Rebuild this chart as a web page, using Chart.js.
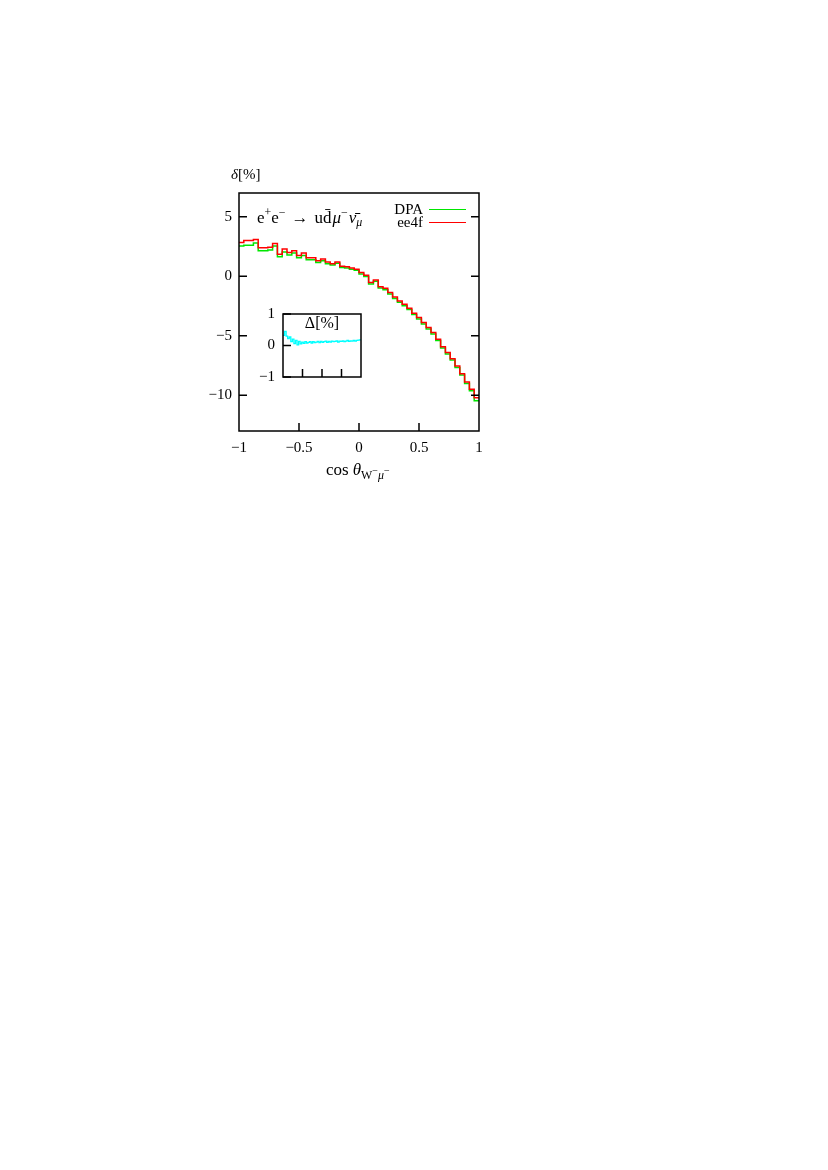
<!DOCTYPE html>
<html><head><meta charset="utf-8">
<script src="https://cdn.jsdelivr.net/npm/chart.js@4/dist/chart.umd.min.js"></script>
<style>
html,body{margin:0;padding:0;background:#fff;}
#wrap{position:relative;width:828px;height:1170px;}
canvas{position:absolute;left:0;top:0;}
</style></head><body>
<div id="wrap"><canvas id="main" width="828" height="1170"></canvas><canvas id="inset" width="828" height="1170"></canvas></div>
<script>
// ---- data ----
const binEdges = [-1,-0.96,-0.92,-0.88,-0.84,-0.8,-0.76,-0.72,-0.68,-0.64,-0.6,-0.56,-0.52,-0.48,-0.44,-0.4,-0.36,-0.32,-0.28,-0.24,-0.2,-0.16,-0.12,-0.08,-0.04,0,0.04,0.08,0.12,0.16,0.2,0.24,0.28,0.32,0.36,0.4,0.44,0.48,0.52,0.56,0.6,0.64,0.68,0.72,0.76,0.8,0.84,0.88,0.92,0.96,1];
const ee4f = [2.85,3.0,3.0,3.1,2.4,2.4,2.45,2.75,1.85,2.3,2.0,2.15,1.75,1.95,1.55,1.55,1.3,1.45,1.2,1.05,1.2,0.85,0.8,0.7,0.6,0.31,0.08,-0.53,-0.31,-0.87,-1.0,-1.37,-1.74,-2.07,-2.35,-2.69,-3.11,-3.47,-3.89,-4.31,-4.73,-5.29,-5.91,-6.41,-6.92,-7.54,-8.18,-8.88,-9.5,-10.2];
const dpa = [2.55,2.6,2.6,2.8,2.15,2.15,2.2,2.55,1.65,2.05,1.8,1.95,1.55,1.75,1.4,1.4,1.15,1.3,1.05,0.95,1.1,0.75,0.7,0.6,0.5,0.2,-0.02,-0.65,-0.42,-0.98,-1.12,-1.48,-1.86,-2.18,-2.47,-2.8,-3.22,-3.58,-4.0,-4.43,-4.85,-5.4,-6.03,-6.53,-7.04,-7.66,-8.3,-9.0,-9.62,-10.45];
const delta = [0.32,0.45,0.3,0.22,0.27,0.12,0.2,0.06,0.16,0.02,0.13,0.05,0.11,0.07,0.12,0.08,0.1,0.12,0.08,0.12,0.09,0.11,0.13,0.09,0.13,0.1,0.12,0.14,0.1,0.13,0.11,0.14,0.12,0.13,0.15,0.11,0.14,0.13,0.15,0.12,0.14,0.16,0.13,0.15,0.14,0.16,0.14,0.16,0.17,0.18];
const xTicks = [-1,-0.5,0,0.5,1];
const yTicks = [-10,-5,0,5];
const insetXTicks = [-1,-0.5,0,0.5,1];
const insetYTicks = [-1,0,1];
const seriesNames = ['DPA','ee4f'];

// ---- helpers ----
const SERIF = '"Liberation Serif", "DejaVu Serif", serif';
function histPoints(vals){
  const p = vals.map((v,i)=>({x:binEdges[i], y:v}));
  p.push({x:binEdges[binEdges.length-1], y:vals[vals.length-1]});
  return p;
}
function fmt(v){ return (v<0?'\u2212':'') + String(Math.abs(v)); }
function drawRuns(ctx, x, y, runs, size){
  ctx.save();
  ctx.fillStyle='#000';
  ctx.textBaseline='alphabetic';
  ctx.textAlign='left';
  let cx = x;
  for(const r of runs){
    const s = r.s ? size*r.s : size;
    ctx.font = (r.i?'italic ':'') + s + 'px ' + SERIF;
    ctx.fillText(r.t, cx, y + (r.dy||0));
    cx += ctx.measureText(r.t).width + (r.gap||0);
  }
  ctx.restore();
  return cx;
}

const framePlugin = {
  id:'frame',
  afterDraw(chart, args, opts){
    const {ctx, chartArea:a} = chart;
    const xs = chart.scales.x, ys = chart.scales.y;
    ctx.save();
    ctx.strokeStyle='#000';
    ctx.lineWidth=1.5;
    ctx.strokeRect(a.left, a.top, a.right-a.left, a.bottom-a.top);
    const L = 8;
    ctx.beginPath();
    for(const v of opts.xt){
      const px = xs.getPixelForValue(v);
      ctx.moveTo(px, a.bottom); ctx.lineTo(px, a.bottom-L);
    }
    for(const v of opts.yt){
      const py = ys.getPixelForValue(v);
      ctx.moveTo(a.left, py); ctx.lineTo(a.left+L, py);
      if(opts.mirror){ ctx.moveTo(a.right, py); ctx.lineTo(a.right-L, py); }
    }
    ctx.stroke();
    ctx.restore();
    if(opts.text) opts.text(ctx, chart);
  }
};

function mainText(ctx, chart){
  // y label
  drawRuns(ctx, 231, 179, [{t:'\u03B4', i:true},{t:'[%]'}], 15);
  // process annotation
  drawRuns(ctx, 257, 223, [
    {t:'e'},{t:'+', s:0.7, dy:-7},{t:'e'},{t:'\u2212', s:0.7, dy:-7, gap:6},
    {t:'\u2192', gap:6},{t:'u'},{t:'d\u0304', gap:1},{t:'\u03BC', i:true},{t:'\u2212', s:0.7, dy:-7, gap:1},
    {t:'\u03BD\u0304', i:true},{t:'\u03BC', i:true, s:0.7, dy:3}
  ], 17);
  // legend
  ctx.save();
  ctx.font = '15px ' + SERIF;
  ctx.fillStyle='#000';
  ctx.textAlign='right';
  ctx.textBaseline='middle';
  ctx.fillText(seriesNames[0], 423, 210);
  ctx.fillText(seriesNames[1], 423, 223);
  ctx.lineWidth=1.2;
  ctx.strokeStyle='#00e600';
  ctx.beginPath(); ctx.moveTo(429, 209.5); ctx.lineTo(466, 209.5); ctx.stroke();
  ctx.strokeStyle='#ff0000';
  ctx.beginPath(); ctx.moveTo(429, 222.5); ctx.lineTo(466, 222.5); ctx.stroke();
  ctx.restore();
  // x title
  drawRuns(ctx, 326, 475, [
    {t:'cos', gap:4},{t:'\u03B8', i:true},{t:'W', s:0.7, dy:4},{t:'\u2212', s:0.6, dy:-1},
    {t:'\u03BC', i:true, s:0.7, dy:4},{t:'\u2212', s:0.6, dy:-1}
  ], 17);
}
function insetText(ctx, chart){
  ctx.save();
  ctx.font = '16px ' + SERIF;
  ctx.fillStyle='#000';
  ctx.textAlign='center';
  ctx.textBaseline='middle';
  ctx.fillText('\u0394[%]', 322, 324);
  ctx.restore();
}

// ---- main chart ----
new Chart(document.getElementById('main'), {
  type:'line',
  data:{datasets:[
    {label:seriesNames[0], data:histPoints(dpa), borderColor:'#00e600', borderWidth:1.5, stepped:true, pointRadius:0, fill:false, order:2},
    {label:seriesNames[1], data:histPoints(ee4f), borderColor:'#ff0000', borderWidth:1.5, stepped:true, pointRadius:0, fill:false, order:1}
  ]},
  options:{
    responsive:false, animation:false, events:[],
    layout:{padding:{left:199, top:193, right:349, bottom:709}},
    plugins:{legend:{display:false}, tooltip:{enabled:false},
      frame:{xt:xTicks.slice(1,-1), yt:yTicks, mirror:true, text:mainText}},
    scales:{
      x:{type:'linear', min:-1, max:1,
        afterBuildTicks:s=>{s.ticks = xTicks.map(v=>({value:v}));},
        afterFit:s=>{s.height=30;},
        grid:{display:false, drawTicks:false}, border:{display:false},
        ticks:{padding:8, color:'#000', font:{family:SERIF, size:15}, maxRotation:0, autoSkip:false, callback:v=>fmt(v)}},
      y:{type:'linear', min:-13, max:7,
        afterBuildTicks:s=>{s.ticks = yTicks.map(v=>({value:v}));},
        afterFit:s=>{s.width=40;},
        grid:{display:false, drawTicks:false}, border:{display:false},
        ticks:{padding:7, color:'#000', font:{family:SERIF, size:15}, autoSkip:false, callback:v=>fmt(v)}}
    }
  },
  plugins:[framePlugin]
});

// ---- inset chart ----
new Chart(document.getElementById('inset'), {
  type:'line',
  data:{datasets:[
    {label:'\u0394', data:histPoints(delta), borderColor:'#00ffff', borderWidth:1.3, stepped:true, pointRadius:0, fill:false}
  ]},
  options:{
    responsive:false, animation:false, events:[],
    layout:{padding:{left:253, top:314, right:467, bottom:793}},
    plugins:{legend:{display:false}, tooltip:{enabled:false},
      frame:{xt:insetXTicks.slice(1,-1), yt:insetYTicks, mirror:false, text:insetText}},
    scales:{
      x:{type:'linear', min:-1, max:1, afterFit:s=>{s.height=0;},
        grid:{display:false, drawTicks:false}, border:{display:false}, ticks:{display:false}},
      y:{type:'linear', min:-1, max:1,
        afterBuildTicks:s=>{s.ticks = insetYTicks.map(v=>({value:v}));},
        afterFit:s=>{s.width=30;},
        grid:{display:false, drawTicks:false}, border:{display:false},
        ticks:{padding:8, color:'#000', font:{family:SERIF, size:15}, autoSkip:false, callback:v=>fmt(v)}}
    }
  },
  plugins:[framePlugin]
});
</script>
</body></html>
